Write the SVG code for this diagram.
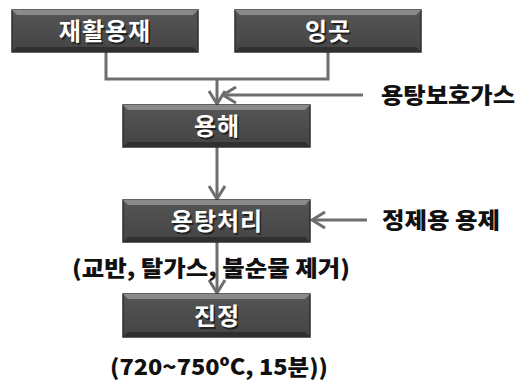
<svg xmlns="http://www.w3.org/2000/svg" width="525" height="381" viewBox="0 0 525 381">
<defs>
<marker id="chev" markerUnits="userSpaceOnUse" markerWidth="18" markerHeight="20" viewBox="0 0 18 20" refX="16" refY="10" orient="auto">
<path d="M3,2 L16,10 L3,18" fill="none" stroke="#6e6e6e" stroke-width="3"/>
</marker>
<linearGradient id="g" x1="0" y1="0" x2="0" y2="1">
<stop offset="0" stop-color="#555"/>
<stop offset="1" stop-color="#444"/>
</linearGradient>
</defs>
<style>
.box{fill:url(#g);stroke:#2e2e2e;stroke-width:1.5}
.hi{fill:#8a8a8a}
.sd{fill:#2f2f2f}
.bt{font-family:"Noto Sans CJK KR","Noto Sans",sans-serif;font-weight:700;font-size:24px;fill:#fff;text-anchor:middle;letter-spacing:1px}
.sh{fill:#222}
.lb{font-family:"Noto Sans CJK KR","Noto Sans",sans-serif;font-weight:900;font-size:22px;fill:#111}
.ln{fill:none;stroke:#6e6e6e;stroke-width:3}
</style>
<g id="connectors">
<path class="ln" d="M106,52 V79 H328 V52"/>
<path class="ln" d="M217,79 V104" marker-end="url(#chev)"/>
<path class="ln" d="M363,95 H223" marker-end="url(#chev)"/>
<path class="ln" d="M217,147 V199" marker-end="url(#chev)"/>
<path class="ln" d="M367,220 H312" marker-end="url(#chev)"/>
<path class="ln" d="M217,242 V293" marker-end="url(#chev)"/>
</g>
<g id="n1">
<rect class="box" x="12" y="10" width="186" height="42"/>
<polygon class="hi" points="12,10 198,10 193,15 17,15"/>
<polygon class="sd" points="12,52 198,52 193,47 17,47"/>
<text class="bt sh" x="106.5" y="41.5">재활용재</text>
<text class="bt" x="105" y="40">재활용재</text>
</g>
<g id="n2">
<rect class="box" x="235" y="10" width="186" height="42"/>
<polygon class="hi" points="235,10 421,10 416,15 240,15"/>
<polygon class="sd" points="235,52 421,52 416,47 240,47"/>
<text class="bt sh" x="329.5" y="41.5">잉곳</text>
<text class="bt" x="328" y="40">잉곳</text>
</g>
<g id="n3">
<rect class="box" x="123" y="105" width="187" height="42"/>
<polygon class="hi" points="123,105 310,105 305,110 128,110"/>
<polygon class="sd" points="123,147 310,147 305,142 128,142"/>
<text class="bt sh" x="218.5" y="136.5">용해</text>
<text class="bt" x="217" y="135">용해</text>
</g>
<g id="n4">
<rect class="box" x="123" y="200" width="187" height="42"/>
<polygon class="hi" points="123,200 310,200 305,205 128,205"/>
<polygon class="sd" points="123,242 310,242 305,237 128,237"/>
<text class="bt sh" x="218.5" y="231.5">용탕처리</text>
<text class="bt" x="217" y="230">용탕처리</text>
</g>
<g id="n5">
<rect class="box" x="123" y="294" width="187" height="43"/>
<polygon class="hi" points="123,294 310,294 305,299 128,299"/>
<polygon class="sd" points="123,337 310,337 305,332 128,332"/>
<text class="bt sh" x="218.5" y="326.5">진정</text>
<text class="bt" x="217" y="325">진정</text>
</g>
<g id="labels">
<text class="lb" x="381" y="103" textLength="134" lengthAdjust="spacingAndGlyphs">용탕보호가스</text>
<text class="lb" x="382" y="228" textLength="118" lengthAdjust="spacingAndGlyphs">정제용 용제</text>
<text class="lb" x="72" y="276" textLength="278" lengthAdjust="spacingAndGlyphs">(교반, 탈가스, 불순물 제거)</text>
<text class="lb" x="110" y="375" textLength="218" lengthAdjust="spacingAndGlyphs">(720~750ºC, 15분))</text>
</g>
</svg>
